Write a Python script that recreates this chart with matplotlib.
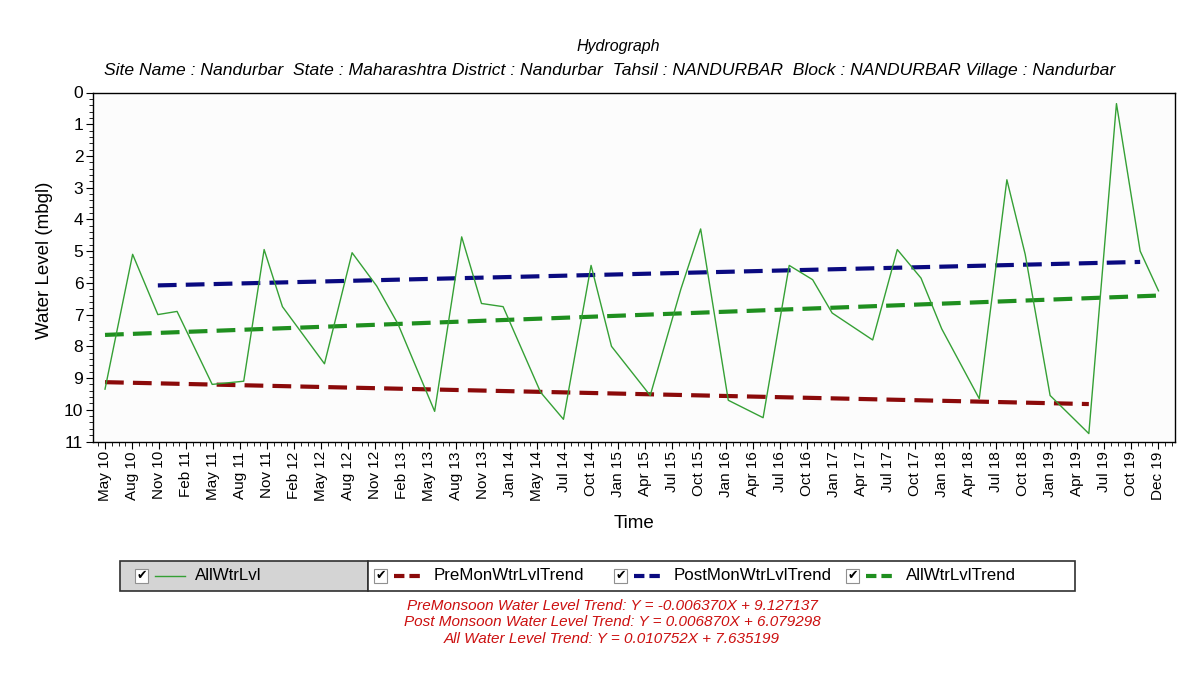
import pandas as pd
import numpy as np
import matplotlib
matplotlib.use("Agg")
import matplotlib.pyplot as plt
import matplotlib.dates as mdates
from matplotlib.patches import Rectangle
from matplotlib.lines import Line2D
from matplotlib.ticker import MultipleLocator

plt.rcParams["font.family"] = ["Liberation Sans", "DejaVu Sans"]

# measurement dates and water level (m below ground level)
dates = [
    "2010-05-20", "2010-08-20", "2010-11-12", "2011-01-15", "2011-05-12",
    "2011-08-25", "2011-11-01", "2012-01-01", "2012-05-20", "2012-08-20",
    "2012-11-10", "2013-01-20", "2013-05-22", "2013-08-20", "2013-10-25",
    "2014-01-05", "2014-05-10", "2014-07-25", "2014-10-25", "2015-01-01",
    "2015-05-10", "2015-08-20", "2015-10-25", "2016-01-25", "2016-05-20",
    "2016-08-15", "2016-11-01", "2017-01-05", "2017-05-20", "2017-08-10",
    "2017-10-28", "2018-01-05", "2018-05-10", "2018-08-10", "2018-10-10",
    "2019-01-01", "2019-05-10", "2019-08-10", "2019-10-28", "2019-12-28",
]
water_level = [
    9.35, 5.10, 7.00, 6.90, 9.20, 9.10, 4.95, 6.75, 8.55, 5.05,
    6.10, 7.30, 10.05, 4.55, 6.65, 6.75, 9.45, 10.30, 5.45, 8.00,
    9.55, 6.20, 4.30, 9.70, 10.25, 5.45, 5.90, 6.95, 7.80, 4.95,
    5.85, 7.45, 9.65, 2.75, 5.10, 9.55, 10.75, 0.35, 5.00, 6.25,
]

# trend lines (start / end)
pre_trend_dates = ["2010-05-20", "2019-05-10"]
pre_trend_vals = [9.13, 9.82]
post_trend_dates = ["2010-11-12", "2019-10-28"]
post_trend_vals = [6.08, 5.34]
all_trend_dates = ["2010-05-20", "2019-12-28"]
all_trend_vals = [7.64, 6.40]

tick_labels = [
    "May 10", "Aug 10", "Nov 10", "Feb 11", "May 11", "Aug 11", "Nov 11", "Feb 12",
    "May 12", "Aug 12", "Nov 12", "Feb 13", "May 13", "Aug 13", "Nov 13", "Jan 14",
    "May 14", "Jul 14", "Oct 14", "Jan 15", "Apr 15", "Jul 15", "Oct 15", "Jan 16",
    "Apr 16", "Jul 16", "Oct 16", "Jan 17", "Apr 17", "Jul 17", "Oct 17", "Jan 18",
    "Apr 18", "Jul 18", "Oct 18", "Jan 19", "Apr 19", "Jul 19", "Oct 19", "Dec 19",
]

trend_text = [
    "PreMonsoon Water Level Trend: Y = -0.006370X + 9.127137",
    "Post Monsoon Water Level Trend: Y = 0.006870X + 6.079298",
    "All Water Level Trend: Y = 0.010752X + 7.635199",
]

x = mdates.date2num(pd.to_datetime(dates))
W, H = 1203, 683
fig = plt.figure(figsize=(W / 100, H / 100), dpi=100, facecolor="white")
ax = fig.add_axes([93 / W, 1 - 441.5 / H, (1175 - 93) / W, (441.5 - 92.5) / H])
ax.set_facecolor("#fcfcfc")

trend_kw = dict(lw=3.0, dashes=(4.5, 2.2), solid_capstyle="butt", dash_capstyle="butt")
ax.plot(mdates.date2num(pd.to_datetime(pre_trend_dates)), pre_trend_vals, color="#8b0a0a", **trend_kw)
ax.plot(mdates.date2num(pd.to_datetime(post_trend_dates)), post_trend_vals, color="#0a0a80", **trend_kw)
ax.plot(mdates.date2num(pd.to_datetime(all_trend_dates)), all_trend_vals, color="#1f8f1f", **trend_kw)
ax.plot(x, water_level, color="#35a035", lw=1.0)

ax.set_ylim(11, 0)
ax.yaxis.set_major_locator(MultipleLocator(1))
ax.yaxis.set_minor_locator(MultipleLocator(0.2))

ticks = np.linspace(x[0], x[-1], len(tick_labels))
ax.set_xticks(ticks)
ax.set_xticklabels(tick_labels, rotation=90, fontsize=11)
step = ticks[1] - ticks[0]
ax.set_xticks(np.arange(ticks[0] - step, ticks[-1] + step, step / 4), minor=True)
ax.set_xlim(x[0] - 40, x[-1] + 55)

ax.tick_params(axis="both", which="major", length=5, width=0.8, direction="out", pad=2)
ax.tick_params(axis="both", which="minor", length=3, width=0.6, direction="out")
ax.tick_params(axis="y", labelsize=12.5)
for s in ax.spines.values():
    s.set_linewidth(1.0)

ax.set_ylabel("Water Level (mbgl)", fontsize=13.5)
ax.yaxis.set_label_coords(-0.037, 0.52)
ax.set_xlabel("Time", fontsize=13.5, labelpad=10)

fig.text(618 / W, 1 - 46 / H, "Hydrograph", ha="center", va="center", fontsize=11.5, style="italic")
fig.text(610 / W, 1 - 71 / H,
         "Site Name : Nandurbar  State : Maharashtra District : Nandurbar  Tahsil : NANDURBAR  "
         "Block : NANDURBAR Village : Nandurbar",
         ha="center", va="center", fontsize=12.6, style="italic")

# legend box
ly0, ly1 = 1 - 591 / H, 1 - 561 / H
fig.patches.append(Rectangle((120 / W, ly0), (368 - 120) / W, ly1 - ly0, transform=fig.transFigure,
                             facecolor="#d4d4d4", edgecolor="#303030", lw=1.2))
fig.patches.append(Rectangle((368 / W, ly0), (1075 - 368) / W, ly1 - ly0, transform=fig.transFigure,
                             facecolor="white", edgecolor="#303030", lw=1.2))
ly = 1 - 576 / H
leg_items = [
    (135, "AllWtrLvl", "#35a035", "-", 1.0),
    (374, "PreMonWtrLvlTrend", "#8b0a0a", "--", 3.0),
    (614, "PostMonWtrLvlTrend", "#0a0a80", "--", 3.0),
    (846, "AllWtrLvlTrend", "#1f8f1f", "--", 3.0),
]
for bx, lab, col, ls, lw in leg_items:
    fig.patches.append(Rectangle((bx / W, ly - 7 / H), 13 / W, 14 / H, transform=fig.transFigure,
                                 facecolor="white", edgecolor="#909090", lw=0.8))
    fig.text((bx + 6.5) / W, ly, "\u2714", ha="center", va="center", fontsize=9,
             family="DejaVu Sans", color="black")
    ln = Line2D([(bx + 20) / W, (bx + 50) / W], [ly, ly], transform=fig.transFigure,
                color=col, lw=lw, linestyle=ls)
    if ls == "--":
        ln.set_dashes((2.5, 1.2))
    fig.lines.append(ln)
    fig.text((bx + 60) / W, ly, lab, ha="left", va="center", fontsize=12.2)

for i, t in enumerate(trend_text):
    fig.text(612 / W, 1 - (606 + 16.5 * i) / H, t, ha="center", va="center", fontsize=11,
             style="italic", color="#cc1010")

fig.savefig("out.png", dpi=100, facecolor="white")
